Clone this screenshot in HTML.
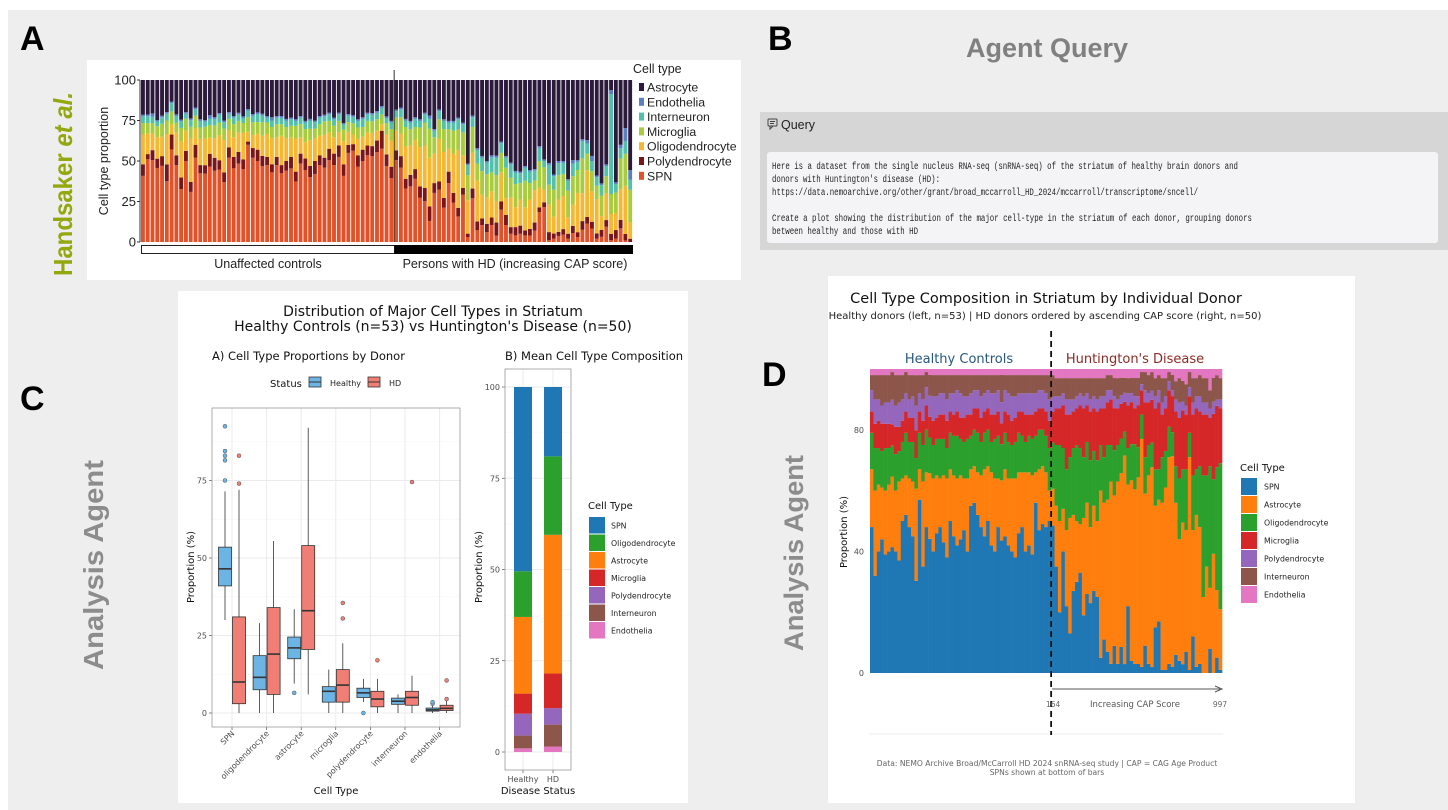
<!DOCTYPE html>
<html><head><meta charset="utf-8"><style>
html,body{margin:0;padding:0;background:#fff;}
svg{display:block;}
</style></head><body>
<svg id="fig" width="1448" height="810" xmlns="http://www.w3.org/2000/svg">
<rect x="8" y="10" width="1440" height="800" fill="#eeeeee"/>
<rect x="87" y="60" width="654" height="220" fill="#fff"/>
<rect x="760" y="112" width="688" height="138" fill="#d6d6d6"/>
<rect x="767" y="152" width="671" height="91" rx="3" fill="#f4f4f6"/>
<rect x="178" y="291" width="510" height="512" fill="#fff"/>
<rect x="828" y="276" width="527" height="527" fill="#fff"/>
<g font-family="Liberation Sans, sans-serif" font-weight="bold" font-size="34" fill="#000">
<text x="20" y="50">A</text>
<text x="768" y="50">B</text>
<text x="20" y="410">C</text>
<text x="762" y="386">D</text>
</g>
<text x="0" y="0" transform="translate(72,276) rotate(-90)" font-family="Liberation Sans, sans-serif" font-weight="bold" font-size="26" textLength="184" lengthAdjust="spacingAndGlyphs" fill="#93a80f">Handsaker <tspan font-style="italic">et al.</tspan></text>
<text transform="translate(103,670) rotate(-90)" font-family="Liberation Sans, sans-serif" font-weight="bold" font-size="28" textLength="210" lengthAdjust="spacingAndGlyphs" fill="#8c8c8c">Analysis Agent</text>
<text transform="translate(803,651) rotate(-90)" font-family="Liberation Sans, sans-serif" font-weight="bold" font-size="27" textLength="196" lengthAdjust="spacingAndGlyphs" fill="#8c8c8c">Analysis Agent</text>
<text x="1047" y="57" text-anchor="middle" font-family="Liberation Sans, sans-serif" font-weight="bold" font-size="27" fill="#808080">Agent Query</text>
<g stroke="#444" fill="none" stroke-width="1">
<rect x="768" y="119" width="9" height="7" rx="1"/><path d="M770 126 L770 129 L773 126"/><line x1="770" y1="121.5" x2="775" y2="121.5"/><line x1="770" y1="123.5" x2="774" y2="123.5"/>
</g>
<text x="781" y="129" font-family="Liberation Sans, sans-serif" font-size="12.5" fill="#222">Query</text>
<g font-family="Liberation Mono, monospace" font-size="10" fill="#222">
<text x="772" y="169" textLength="466" lengthAdjust="spacingAndGlyphs">Here is a dataset from the single nucleus RNA-seq (snRNA-seq) of the striatum of healthy brain donors and</text>
<text x="772" y="182" textLength="168" lengthAdjust="spacingAndGlyphs">donors with Huntington's disease (HD):</text>
<text x="772" y="195" textLength="426" lengthAdjust="spacingAndGlyphs">https://data.nemoarchive.org/other/grant/broad_mccarroll_HD_2024/mccarroll/transcriptome/sncell/</text>
<text x="772" y="221" textLength="480" lengthAdjust="spacingAndGlyphs">Create a plot showing the distribution of the major cell-type in the striatum of each donor, grouping donors</text>
<text x="772" y="234" textLength="146" lengthAdjust="spacingAndGlyphs">between healthy and those with HD</text>
</g>
<g id="pA"></g><g id="pC"></g><g id="pB"></g><g id="pD"></g>
</svg>
<script>
// ===== Panel A data (Handsaker et al.) 53 controls + 50 HD =====
const aSPN=[40,48,49,48,47,36,56,47,32,48, 30,52,42,41,47,44,46,37,50,45, 48,44,60,52,50,45,47,43,47,42, 44,45,37,48,44,40,42,47,45,50, 47,52,40,55,57,46,50,53,52,55, 57,46,39,
 50,46,33,34,39,27,25,13,30,32, 21,36,24,15,29,3,27,7,10,6, 9,3,20,10,5,4,5,4,4,7, 18,22,1,2,3,4,2,5,3,7, 11,8,2,3,9,1,2,8,1,0];
const aPoly=[7,3,6,6,6,10,9,6,7,6, 6,8,5,5,8,8,6,6,6,7, 7,6,2,6,7,6,5,5,5,5, 6,7,6,6,7,7,8,6,6,7, 7,7,7,5,4,7,7,6,6,7, 11,7,7,
 6,7,6,7,6,7,8,9,6,5, 6,7,6,5,4,2,6,5,4,5, 4,6,5,6,4,5,5,3,4,5, 3,3,4,3,2,3,3,4,3,5, 4,4,3,4,4,3,5,5,4,2];
const aOligo=[18,12,10,14,12,18,6,14,22,12, 26,10,16,16,10,12,16,20,10,12, 12,16,6,8,10,12,14,16,12,18, 14,12,20,10,10,16,14,12,14,10, 10,8,14,8,6,10,8,8,8,6, 4,12,16,
 12,14,20,18,18,24,26,30,18,26, 28,14,24,34,20,20,22,24,14,16, 14,10,18,10,18,12,16,14,18,20, 12,8,14,10,16,18,10,12,24,16, 28,18,20,8,16,10,10,18,30,10];
const aMicro=[7,6,6,7,8,8,8,6,8,7, 7,8,7,7,8,8,8,7,7,8, 7,6,9,8,7,8,7,7,8,7, 7,7,8,8,8,7,6,7,8,7, 7,7,7,6,7,7,6,7,7,7, 6,7,7,
 8,10,12,10,8,12,14,18,10,12, 14,12,14,12,14,15,16,10,14,14, 10,12,12,18,12,14,10,16,10,6, 16,14,10,16,12,12,16,16,14,20, 10,12,8,12,10,10,12,18,20,20];
const aInter=[4,4,4,3,4,4,5,4,4,3, 4,4,4,3,4,4,5,4,3,4, 4,3,4,4,5,4,3,4,4,4, 4,4,3,4,4,5,4,4,3,4, 4,4,3,4,4,4,5,4,4,4, 4,3,4,
 4,5,4,4,5,4,5,6,4,5, 5,4,5,6,5,6,6,8,8,7, 8,8,6,6,8,7,6,8,7,6, 8,4,10,8,6,6,6,7,5,10, 6,6,5,6,6,50,5,6,8,6];
const aEndo=[1,1,2,1,1,1,1,1,1,1, 1,1,1,1,2,1,1,1,1,1, 1,1,1,1,1,1,1,2,1,1, 1,1,1,1,1,1,1,1,1,1, 1,1,1,1,1,1,1,1,1,1, 1,1,1,
 1,1,1,1,1,1,1,2,1,1, 1,1,1,1,1,1,1,1,1,1, 1,1,1,1,1,1,1,1,1,1, 1,1,1,1,1,1,1,2,1,1, 2,3,1,1,1,2,1,2,8,6];
const aAstro=[21,20,20,26,22,19,13,21,24,19, 23,17,24,24,22,23,21,25,19,22, 20,22,18,21,20,20,22,23,22,22, 24,23,24,22,25,24,25,22,21,20, 23,20,26,21,22,24,23,20,20,19, 16,22,25,
 18,17,24,25,23,24,20,22,30,18, 24,25,25,22,26,50,22,40,45,49, 40,35,38,45,50,55,56,52,55,55, 40,50,42,56,40,44,60,45,49,34, 36,45,56,60,50,5,60,38,30,55];
const aTypes=['SPN','Polydendrocyte','Oligodendrocyte','Microglia','Interneuron','Endothelia','Astrocyte'];
const aLegend=['Astrocyte','Endothelia','Interneuron','Microglia','Oligodendrocyte','Polydendrocyte','SPN'];
const aTicks=[0,25,50,75,100];
const aNControl=53;

// ===== Panel C data (boxplots) =====
const cCats=['SPN','oligodendrocyte','astrocyte','microglia','polydendrocyte','interneuron','endothelia'];
const cHealthy=[[30,41,46.5,53.5,71.5],[0,7.5,11.5,18.5,29],[9.5,17.5,21,24.5,33.5],[0,3.5,7,8.5,14],[3.5,5,6.5,8,11],[0,2.8,3.8,4.8,6],[0,0.6,1,1.6,2.5]];
const cHD=[[0,3,10,31,72],[0,6,19,34,55.5],[6,20.5,33,54,92],[0,3.5,9,14,22.5],[0,2,4.5,7,11],[0,2.5,5,7,12],[0,0.8,1.5,2.5,4]];
const cHealthyOut=[[75,81.5,83,84.5,92.5],[],[6.5],[],[0],[],[3,3.5]];
const cHDOut=[[74,83],[],[],[30.5,35.5],[17],[74.5],[4.5,10.5]];
const cTicks=[0,25,50,75];

// ===== Panel B data (mean composition) =====
const bGroups=['Healthy','HD'];
const bOrder=['Endothelia','Interneuron','Polydendrocyte','Microglia','Astrocyte','Oligodendrocyte','SPN'];
const bHealthy=[1,3.5,6,5.5,21,12.5,50.5];
const bHD=[1.5,6,4.5,9.5,38,21.5,19];
const bTicks=[0,25,50,75,100];
const bLegend=['SPN','Oligodendrocyte','Astrocyte','Microglia','Polydendrocyte','Interneuron','Endothelia'];

// ===== Panel D data (53 healthy + 50 HD ordered by CAP) =====
const dSPN=[48,32,40,44,39,40,41,40,37,50, 52,48,45,30,57,35,48,45,40,46, 48,43,38,50,45,42,44,47,40,55, 56,52,48,45,50,42,40,48,44,45, 42,40,38,46,48,40,42,39,56,47, 49,48,50,
 48,35,20,40,22,13,27,30,33,19, 26,23,27,25,5,11,7,3,9,3, 9,3,22,4,3,3,2,9,3,2, 15,17,1,1,3,2,6,4,3,7, 1,12,2,3,0,0,8,0,5,1];
const dAstro=[19,28,22,17,21,22,23,20,26,14, 13,16,18,30,10,28,18,22,24,19, 16,22,26,17,20,22,21,17,24,12, 12,14,17,22,18,24,24,16,20,22, 22,24,26,20,18,26,24,26,10,20, 19,18,10,
 12,20,30,14,25,38,25,20,16,32, 30,25,28,25,55,45,50,60,50,60, 60,70,40,60,58,62,75,50,62,65, 40,40,55,60,68,70,50,40,48,40, 70,35,50,45,25,35,20,40,22,20];
const dOligo=[12,14,12,12,14,12,10,12,10,12, 14,12,13,10,12,12,14,12,11,12, 13,12,10,12,13,14,12,12,13,11, 12,13,11,12,12,10,13,14,12,12, 12,11,12,13,12,10,12,12,12,13, 12,12,14,
 15,20,25,20,20,20,22,25,25,20, 20,22,18,20,15,15,18,12,15,12, 12,8,12,12,15,10,8,12,10,8, 12,10,15,12,10,8,12,20,18,20, 8,18,15,20,40,30,40,25,40,48];
const dMicro=[7,8,9,9,8,8,7,9,8,7, 7,8,8,9,7,8,8,7,8,7, 8,8,9,7,7,8,7,8,8,7, 7,8,8,7,7,9,8,8,7,7, 9,8,8,7,8,9,7,8,8,7, 7,8,9,
 10,12,12,14,18,14,12,12,14,16, 12,16,14,16,12,16,14,15,14,12, 12,10,14,14,12,14,8,18,14,14, 20,22,14,14,12,12,18,20,20,18, 12,20,20,18,20,20,16,22,20,18];
const dPoly=[7,8,7,6,7,7,8,7,8,7, 6,6,7,8,6,7,6,7,8,7, 7,7,7,6,7,7,8,7,6,7, 6,6,7,6,6,7,7,7,7,7, 7,8,7,6,6,7,7,7,6,6, 6,6,7,
 5,4,4,4,5,5,4,4,4,4, 4,4,4,4,4,4,4,3,4,3, 3,3,4,3,4,3,2,4,3,3, 4,4,4,4,3,2,4,5,3,3, 3,4,4,5,4,4,3,4,2,3];
const dInter=[5,8,8,10,9,9,9,10,9,8, 7,8,7,10,6,8,5,7,7,7, 6,6,8,6,6,5,6,7,7,6, 5,5,7,6,5,6,6,5,9,5, 6,7,7,6,6,6,6,6,6,5, 5,6,8,
 7,6,6,5,7,7,7,6,5,6, 5,7,6,7,6,6,5,5,6,7, 6,5,5,5,6,6,4,6,6,6, 6,5,8,6,3,5,6,8,7,7, 5,8,6,7,8,8,6,8,8,7];
const dEndo=[2,2,2,2,2,2,1,2,2,2, 1,2,2,2,2,2,1,2,2,2, 2,2,2,2,2,2,2,2,2,2, 2,2,2,2,2,2,2,2,2,2, 2,2,2,2,2,2,2,2,2,2, 2,2,2,
 2,3,3,3,3,3,3,3,3,3, 3,3,3,3,3,3,2,2,3,3, 3,3,3,3,3,3,1,1,2,1, 3,2,3,3,1,2,4,3,4,5, 1,3,3,2,3,3,7,3,2,3];
const dTypes=['SPN','Astrocyte','Oligodendrocyte','Microglia','Polydendrocyte','Interneuron','Endothelia'];
const dTicks=[0,40,80];
const dNHealthy=53;
const dCapLabels=['164','997'];

const NS='http://www.w3.org/2000/svg';
function el(tag,parent,attrs){const e=document.createElementNS(NS,tag);for(const k in attrs)e.setAttribute(k,attrs[k]);parent.appendChild(e);return e;}
function txt(parent,x,y,s,attrs){const e=el('text',parent,Object.assign({x:x,y:y},attrs||{}));e.textContent=s;return e;}

// ---------- Panel A ----------
(function(){
 const g=document.getElementById('pA');
 const col={SPN:'#e0522a',Polydendrocyte:'#7a1518',Oligodendrocyte:'#f4b833',Microglia:'#a9cb3e',Interneuron:'#52c0aa',Endothelia:'#5a80c4',Astrocyte:'#2c1a3c'};
 const series={SPN:aSPN,Polydendrocyte:aPoly,Oligodendrocyte:aOligo,Microglia:aMicro,Interneuron:aInter,Endothelia:aEndo,Astrocyte:aAstro};
 const n=aSPN.length, x0=141, x1=633, step=(x1-x0)/n;
 const xA=i=>x0+i*step, yA=v=>242-v*1.62;
 for(let i=0;i<n;i++){
  let tot=0;aTypes.forEach(t=>tot+=series[t][i]);
  let c=0;
  aTypes.forEach(t=>{const v=series[t][i]/tot*100;
   const r=el('rect',g,{x:xA(i),y:yA(c+v),width:step-0.9,height:v*1.62,fill:col[t]});
   
   
   c+=v;});
 }
 const ax=el('line',g,{x1:x0-1,y1:yA(0),x2:x0-1,y2:yA(100),stroke:'#333','stroke-width':1});
 
 
 aTicks.forEach(t=>{
  el('line',g,{x1:x0-4,x2:x0-1,y1:yA(t),y2:yA(t),stroke:'#333'});
  const tl=txt(g,x0-5,yA(t)+4.5,String(t),{'text-anchor':'end','font-family':'Liberation Sans, sans-serif','font-size':13,fill:'#222'});
  
  
 });
 const yl=txt(g,0,0,'Cell type proportion',{transform:'translate(108,161) rotate(-90)','text-anchor':'middle','font-family':'Liberation Sans, sans-serif','font-size':12.5,fill:'#222'});
 
 
 const xd=xA(aNControl);
 const dv=el('line',g,{x1:xd,x2:xd,y1:70,y2:242,stroke:'#333','stroke-width':1});
 
 
 const wb=el('rect',g,{x:x0+0.5,y:245.5,width:xd-x0,height:8,fill:'#fff',stroke:'#222'});
 
 
 const bb=el('rect',g,{x:xd,y:245,width:x1-xd,height:9,fill:'#000'});
 
 
 const l1=txt(g,268,268,'Unaffected controls',{'text-anchor':'middle','font-family':'Liberation Sans, sans-serif','font-size':12.5,fill:'#222'});
 
 
 const l2=txt(g,515,268,'Persons with HD (increasing CAP score)',{'text-anchor':'middle','font-family':'Liberation Sans, sans-serif','font-size':12.5,fill:'#222'});
 
 
 const lt=txt(g,633,73,'Cell type',{'font-family':'Liberation Sans, sans-serif','font-size':12.5,fill:'#222'});
 
 
 aLegend.forEach((t,k)=>{
  const y=87+k*14.8;
  const s=el('rect',g,{x:639,y:y-4,width:5,height:8,fill:col[t]});
  
  
  const tt=txt(g,647,y+4.5,t,{'font-family':'Liberation Sans, sans-serif','font-size':12.3,fill:'#222'});
  
  
 });
})();

// ---------- Panel C (boxplots) ----------
(function(){
 const g=document.getElementById('pC');
 const F='DejaVu Sans, sans-serif';
 const px0=212,px1=460,pt=408,pb=727;
 const yC=v=>713-v*3.1;
 const xC=i=>232+i*34.6;
 const t1=txt(g,433,316,'Distribution of Major Cell Types in Striatum',{'text-anchor':'middle','font-family':F,'font-size':14,fill:'#111'});
 
 
 const t2=txt(g,433,331,"Healthy Controls (n=53) vs Huntington's Disease (n=50)",{'text-anchor':'middle','font-family':F,'font-size':14,fill:'#111'});
 
 
 const st=txt(g,212,360,'A) Cell Type Proportions by Donor',{'font-family':F,'font-size':11.5,fill:'#111'});
 
 
 const ls=txt(g,270,387,'Status',{'font-family':F,'font-size':10,fill:'#111'});
 
 
 [['Healthy','#6cb4e4',309,330],['HD','#f07e74',368,389]].forEach(a=>{
  const r=el('rect',g,{x:a[2],y:377,width:12,height:10,fill:a[1],stroke:'#333','stroke-width':0.8});
  
  
  el('line',g,{x1:a[2],x2:a[2]+12,y1:382,y2:382,stroke:'#333'});
  const tt=txt(g,a[3],386,a[0],{'font-family':F,'font-size':8,fill:'#222'});
  
  
 });
 const bg=el('rect',g,{x:px0,y:pt,width:px1-px0,height:pb-pt,fill:'#fff'});
 
 
 [12.5,37.5,62.5,87.5].forEach(t=>el('line',g,{x1:px0,x2:px1,y1:yC(t),y2:yC(t),stroke:'#f5f5f5','stroke-width':0.6}));
 cTicks.forEach(t=>{
  el('line',g,{x1:px0,x2:px1,y1:yC(t),y2:yC(t),stroke:'#ebebeb','stroke-width':1});
  el('line',g,{x1:px0-3,x2:px0,y1:yC(t),y2:yC(t),stroke:'#333','stroke-width':0.6});
  const tl=txt(g,px0-5,yC(t)+3,String(t),{'text-anchor':'end','font-family':F,'font-size':8,fill:'#4d4d4d'});
  
  
 });
 cCats.forEach((c,i)=>{
  el('line',g,{x1:xC(i),x2:xC(i),y1:pt,y2:pb,stroke:'#ebebeb','stroke-width':1});
  el('line',g,{x1:xC(i),x2:xC(i),y1:pb,y2:pb+3,stroke:'#333','stroke-width':0.6});
  const tl=txt(g,0,0,c,{transform:'translate('+(xC(i)+3)+','+(pb+7)+') rotate(-45)','text-anchor':'end','font-family':F,'font-size':8,fill:'#4d4d4d'});
  
  
 });
 function box(i,st,outs,off,fill,name){
  const cx=xC(i)+off,w=13;
  const wh=el('line',g,{x1:cx,x2:cx,y1:yC(st[0]),y2:yC(st[4]),stroke:'#333','stroke-width':0.8});
  
  
  const r=el('rect',g,{x:cx-w/2,y:yC(st[3]),width:w,height:yC(st[1])-yC(st[3]),fill:fill,stroke:'#333','stroke-width':0.8});
  
  
  const m=el('line',g,{x1:cx-w/2,x2:cx+w/2,y1:yC(st[2]),y2:yC(st[2]),stroke:'#333','stroke-width':1.6});
  
  
  outs.forEach((o,k)=>{
   const p=el('circle',g,{cx:cx,cy:yC(o),r:2,fill:fill,stroke:'#555','stroke-width':0.5});
   
   
  });
 }
 cCats.forEach((c,i)=>{
  box(i,cHealthy[i],cHealthyOut[i],-7,'#6cb4e4','c-healthy-'+c);
  box(i,cHD[i],cHDOut[i],7,'#f07e74','c-hd-'+c);
 });
 const bd=el('rect',g,{x:px0,y:pt,width:px1-px0,height:pb-pt,fill:'none',stroke:'#999','stroke-width':0.8});
 
 
 const yl=txt(g,0,0,'Proportion (%)',{transform:'translate(194,567) rotate(-90)','text-anchor':'middle','font-family':F,'font-size':10,fill:'#111'});
 
 
 const xl=txt(g,336,794,'Cell Type',{'text-anchor':'middle','font-family':F,'font-size':10,fill:'#111'});
 
 
})();

// ---------- Panel B (mean composition) ----------
(function(){
 const g=document.getElementById('pB');
 const F='DejaVu Sans, sans-serif';
 const col={SPN:'#1f77b4',Oligodendrocyte:'#2ca02c',Astrocyte:'#ff7f0e',Microglia:'#d62728',Polydendrocyte:'#9467bd',Interneuron:'#8c564b',Endothelia:'#e377c2'};
 const px0=505,px1=571,pt=369,pb=770;
 const yB=v=>752-v*3.65;
 const xB=i=>523+i*30;
 const cp=el('clipPath',g,{id:'clipB'});el('rect',cp,{x:178,y:291,width:510,height:512});
 const st=txt(g,505,360,'B) Mean Cell Type Composition',{'font-family':F,'font-size':11.5,fill:'#111','clip-path':'url(#clipB)'});
 
 
 bTicks.forEach(t=>{
  el('line',g,{x1:px0,x2:px1,y1:yB(t),y2:yB(t),stroke:'#ebebeb'});
  el('line',g,{x1:px0-3,x2:px0,y1:yB(t),y2:yB(t),stroke:'#333','stroke-width':0.6});
  const tl=txt(g,px0-5,yB(t)+3,String(t),{'text-anchor':'end','font-family':F,'font-size':8,fill:'#4d4d4d'});
  
  
 });
 [12.5,37.5,62.5,87.5].forEach(t=>el('line',g,{x1:px0,x2:px1,y1:yB(t),y2:yB(t),stroke:'#f5f5f5','stroke-width':0.6}));
 [bHealthy,bHD].forEach((vals,gi)=>{
  el('line',g,{x1:xB(gi),x2:xB(gi),y1:pt,y2:pb,stroke:'#ebebeb'});
  let c=0;
  bOrder.forEach((t,k)=>{
   const r=el('rect',g,{x:xB(gi)-9,y:yB(c+vals[k]),width:18,height:vals[k]*3.65,fill:col[t]});
   
   
   c+=vals[k];
  });
  el('line',g,{x1:xB(gi),x2:xB(gi),y1:pb,y2:pb+3,stroke:'#333','stroke-width':0.6});
  const tl=txt(g,xB(gi),pb+12,bGroups[gi],{'text-anchor':'middle','font-family':F,'font-size':8,fill:'#4d4d4d'});
  
  
 });
 const bd=el('rect',g,{x:px0,y:pt,width:px1-px0,height:pb-pt,fill:'none',stroke:'#999','stroke-width':0.8});
 
 
 const yl=txt(g,0,0,'Proportion (%)',{transform:'translate(482,567) rotate(-90)','text-anchor':'middle','font-family':F,'font-size':10,fill:'#111'});
 
 
 const xl=txt(g,538,794,'Disease Status',{'text-anchor':'middle','font-family':F,'font-size':10,fill:'#111'});
 
 
 const lt=txt(g,588,509,'Cell Type',{'font-family':F,'font-size':10,fill:'#111'});
 
 
 bLegend.forEach((t,k)=>{
  const y=517+k*17.5;
  const s=el('rect',g,{x:589,y:y,width:16,height:16.5,fill:col[t]});
  
  
  const tt=txt(g,611,y+11.5,t,{'font-family':F,'font-size':7.8,fill:'#222'});
  
  
 });
})();

// ---------- Panel D ----------
(function(){
 const g=document.getElementById('pD');
 const F='DejaVu Sans, sans-serif';
 const col={SPN:'#1f77b4',Astrocyte:'#ff7f0e',Oligodendrocyte:'#2ca02c',Microglia:'#d62728',Polydendrocyte:'#9467bd',Interneuron:'#8c564b',Endothelia:'#e377c2'};
 const series={SPN:dSPN,Astrocyte:dAstro,Oligodendrocyte:dOligo,Microglia:dMicro,Polydendrocyte:dPoly,Interneuron:dInter,Endothelia:dEndo};
 const n=dSPN.length,x0=870,x1=1222,step=(x1-x0)/n;
 const xD=i=>x0+i*step, yD=v=>673-v*3.04;
 const t1=txt(g,1046,303,'Cell Type Composition in Striatum by Individual Donor',{'text-anchor':'middle','font-family':F,'font-size':14.5,fill:'#111'});
 
 
 const cp=el('clipPath',g,{id:'clipD'});el('rect',cp,{x:828,y:276,width:527,height:527});
 const t2=txt(g,1045,319,"Healthy donors (left, n=53) | HD donors ordered by ascending CAP score (right, n=50)",{'text-anchor':'middle','font-family':F,'font-size':10,fill:'#222','clip-path':'url(#clipD)'});
 
 
 for(let i=0;i<n;i++){
  let tot=0;dTypes.forEach(t=>tot+=series[t][i]);
  let c=0;
  dTypes.forEach(t=>{const v=series[t][i]/tot*100;
   const r=el('rect',g,{x:xD(i),y:yD(c+v),width:step+0.3,height:v*3.04,fill:col[t]});
   
   
   c+=v;});
 }
 dTicks.forEach(t=>{
  const tl=txt(g,864,yD(t)+3,String(t),{'text-anchor':'end','font-family':F,'font-size':8,fill:'#4d4d4d'});
  
  
 });
 const yl=txt(g,0,0,'Proportion (%)',{transform:'translate(847,532) rotate(-90)','text-anchor':'middle','font-family':F,'font-size':10,fill:'#111'});
 
 
 const hc=txt(g,959,363,'Healthy Controls',{'text-anchor':'middle','font-family':F,'font-size':13,fill:'#28577f'});
 
 
 const hd=txt(g,1135,363,"Huntington's Disease",{'text-anchor':'middle','font-family':F,'font-size':13,fill:'#8b2b26'});
 
 
 const xd=xD(dNHealthy);
 const hl=el('line',g,{x1:869,x2:1223,y1:734,y2:734,stroke:'#ececec'});
 
 
 const dl=el('line',g,{x1:xd,x2:xd,y1:331,y2:735,stroke:'#111','stroke-width':1.8,'stroke-dasharray':'6,4'});
 
 
 const ar=el('line',g,{x1:xd+1,x2:1220,y1:689,y2:689,stroke:'#555','stroke-width':1});
 
 
 const ah=el('path',g,{d:'M1215 686 L1222 689 L1215 692',fill:'none',stroke:'#555','stroke-width':1});
 
 
 const c1=txt(g,xd+2,707,dCapLabels[0],{'text-anchor':'middle','font-family':F,'font-size':7.5,fill:'#666'});
 
 
 const c2=txt(g,1220,707,dCapLabels[1],{'text-anchor':'middle','font-family':F,'font-size':7.5,fill:'#666'});
 
 
 const c3=txt(g,1135,707,'Increasing CAP Score',{'text-anchor':'middle','font-family':F,'font-size':8.5,fill:'#555'});
 
 
 const f1=txt(g,1047,766,'Data: NEMO Archive Broad/McCarroll HD 2024 snRNA-seq study | CAP = CAG Age Product',{'text-anchor':'middle','font-family':F,'font-size':7.6,fill:'#666'});
 
 
 const f2=txt(g,1047,775,'SPNs shown at bottom of bars',{'text-anchor':'middle','font-family':F,'font-size':7.6,fill:'#666'});
 
 
 const lt=txt(g,1240,471,'Cell Type',{'font-family':F,'font-size':10,fill:'#111'});
 
 
 dTypes.forEach((t,k)=>{
  const y=478+k*18;
  const s=el('rect',g,{x:1241,y:y,width:16,height:17,fill:col[t]});
  
  
  const tt=txt(g,1264,y+11.5,t,{'font-family':F,'font-size':7.8,fill:'#222'});
  
  
 });
})();
</script>
</body></html>
